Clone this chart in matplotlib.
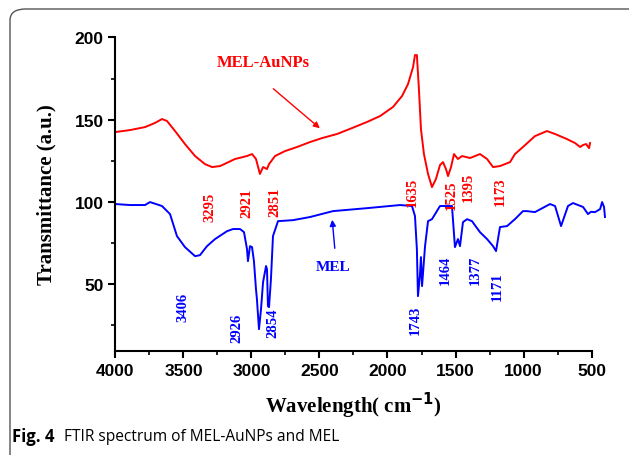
import numpy as np
import matplotlib.pyplot as plt
from matplotlib.patches import FancyBboxPatch
from matplotlib.ticker import MultipleLocator

# spectre MEL-AuNPs (rouge) : nombre d'onde (cm-1) et transmittance
w_aunp = [4000, 3893, 3783, 3710, 3658, 3621, 3562, 3489, 3415, 3342, 3290,
          3231, 3121, 3033, 2996, 2967, 2938, 2915, 2886, 2871, 2827, 2754,
          2665, 2570, 2482, 2371, 2261, 2151, 2055, 1960, 1893, 1849, 1812,
          1798, 1784, 1769, 1754, 1732, 1702, 1673, 1644, 1614, 1592, 1570,
          1555, 1533, 1511, 1482, 1452, 1393, 1320, 1268, 1224, 1173, 1136,
          1099, 1063, 1004, 916, 828, 768, 680, 621, 584, 562, 540, 518, 511]
t_aunp = [142.5, 143.7, 145.5, 148.0, 150.4, 149.2, 143.1, 135.2, 127.9, 123.0,
          121.2, 121.8, 126.1, 127.9, 129.1, 126.1, 117.0, 121.2, 120.0, 123.0,
          127.9, 130.9, 133.4, 136.4, 138.8, 141.3, 144.9, 148.6, 152.2, 157.7,
          164.4, 171.7, 182.0, 189.3, 189.3, 168.7, 144.3, 129.1, 117.0, 109.0,
          113.9, 122.4, 124.2, 120.0, 115.7, 121.2, 129.1, 126.1, 127.9, 126.7,
          129.1, 126.1, 121.2, 121.8, 123.0, 124.2, 129.1, 133.4, 140.0, 143.1,
          141.3, 138.2, 135.8, 133.4, 134.6, 135.2, 132.7, 135.8]

# spectre MEL (bleu)
w_mel = [4000, 3893, 3783, 3746, 3658, 3599, 3548, 3489, 3415, 3379, 3327,
         3268, 3180, 3136, 3084, 3055, 3033, 3026, 3011, 2996, 2982, 2967,
         2960, 2945, 2930, 2915, 2893, 2886, 2879, 2871, 2857, 2842, 2805,
         2695, 2570, 2401, 2151, 1908, 1820, 1798, 1784, 1776, 1762, 1754,
         1746, 1724, 1702, 1673, 1614, 1526, 1504, 1482, 1467, 1445, 1415,
         1379, 1320, 1268, 1224, 1202, 1173, 1121, 1063, 1004, 975, 916, 805,
         768, 724, 673, 636, 562, 526, 504, 474, 437, 422, 408, 401]
t_mel = [98.7, 98.1, 98.1, 99.9, 97.5, 92.6, 79.2, 72.5, 67.0, 67.6, 73.1,
         77.4, 82.2, 83.5, 83.5, 81.6, 71.3, 64.0, 73.1, 72.5, 64.0, 46.9,
         40.8, 22.6, 34.8, 51.2, 61.0, 59.0, 36.6, 36.0, 53.0, 79.2, 88.3,
         88.9, 90.8, 94.4, 96.2, 98.1, 97.5, 91.4, 71.3, 42.7, 55.0, 66.4,
         48.8, 73.1, 88.3, 89.5, 97.5, 97.5, 72.5, 77.4, 73.1, 87.7, 89.5,
         88.3, 81.6, 77.4, 73.1, 70.1, 84.7, 85.3, 89.5, 94.4, 94.4, 93.8,
         98.7, 97.5, 85.3, 97.5, 99.3, 96.9, 92.6, 94.0, 93.8, 95.6, 99.9,
         96.9, 90.8]

# etiquettes des pics (texte, x, y)
pics_rouge = [("3295", 3305, 97.5), ("2921", 3033, 100.0), ("2851", 2827, 100.5),
              ("1635", 1820, 106.6), ("1525", 1533, 104.8), ("1395", 1408, 109.6),
              ("1173", 1173, 106.6)]
pics_bleu = [("3406", 3504, 36.6), ("2926", 3107, 23.8), ("2854", 2842, 26.9),
             ("1743", 1798, 28.7), ("1464", 1577, 59.1), ("1377", 1357, 59.1),
             ("1171", 1195, 48.8)]

serif = ['Liberation Serif', 'DejaVu Serif']
sans = ['Liberation Sans', 'DejaVu Sans']
legende = ['Open Sans', 'DejaVu Sans']

fig = plt.figure(figsize=(6.29, 4.56), dpi=100)

# cadre arrondi autour de la figure
cadre = FancyBboxPatch((10 / 629, -0.1), 1.2, 1.1 - 10 / 456,
                       boxstyle="round,pad=0,rounding_size=0.025",
                       transform=fig.transFigure, fill=False,
                       edgecolor='#555555', linewidth=1.0)
fig.patches.append(cadre)

ax = fig.add_axes([0.1836, 0.2287, 0.7568, 0.6869])
ax.plot(w_aunp, t_aunp, color='#ff0000', linewidth=1.4, clip_on=False)
ax.plot(w_mel, t_mel, color='#0000ff', linewidth=1.4, clip_on=False)

ax.set_xlim(4000, 500)
ax.set_ylim(9.5, 200)
ax.spines['top'].set_visible(False)
ax.spines['right'].set_visible(False)
for s in ['left', 'bottom']:
    ax.spines[s].set_linewidth(1.5)

ax.xaxis.set_major_locator(MultipleLocator(500))
ax.xaxis.set_minor_locator(MultipleLocator(250))
ax.yaxis.set_major_locator(MultipleLocator(50))
ax.yaxis.set_minor_locator(MultipleLocator(25))
ax.set_yticks([50, 100, 150, 200])
ax.tick_params(which='major', length=5, width=1.5, direction='out')
ax.tick_params(which='minor', length=3, width=1.2, direction='out')
for lab in ax.get_xticklabels() + ax.get_yticklabels():
    lab.set_family(sans)
    lab.set_fontweight('bold')
    lab.set_fontsize(12.5)

ax.set_xlabel('Wavelength( cm$^{\\mathbf{-1}}$)', family=serif, fontweight='bold',
              fontsize=15, labelpad=9)
ax.set_ylabel('Transmittance (a.u.)', family=serif, fontweight='bold',
              fontsize=15, labelpad=13)

for txt, x, y in pics_rouge:
    ax.text(x, y, txt, color='#ff0000', rotation=90, ha='center', va='center',
            family=serif, fontweight='bold', fontsize=10.5)
for txt, x, y in pics_bleu:
    ax.text(x, y, txt, color='#0000ff', rotation=90, ha='center', va='center',
            family=serif, fontweight='bold', fontsize=10.5)

ax.text(2914, 185, 'MEL-AuNPs', color='#ff0000', ha='center', va='center',
        family=serif, fontweight='bold', fontsize=12)
ax.annotate('', xy=(2482, 143.7), xytext=(2855, 169.9),
            arrowprops=dict(arrowstyle='-|>', color='#ff0000', lw=1.0,
                            mutation_scale=9))
ax.text(2401, 61, 'MEL', color='#0000ff', ha='center', va='center',
        family=serif, fontweight='bold', fontsize=11)
ax.annotate('', xy=(2408, 90.8), xytext=(2386, 70.1),
            arrowprops=dict(arrowstyle='-|>', color='#0000ff', lw=1.0,
                            mutation_scale=9))

fig.text(12 / 629, 1 - 437 / 456, 'Fig. 4', family=legende,
         fontweight='bold', fontsize=12, va='center', ha='left')
fig.text(64 / 629, 1 - 437 / 456, 'FTIR spectrum of MEL-AuNPs and MEL',
         family=legende, fontsize=11.2, va='center', ha='left')

fig.savefig('out.png', dpi=100)
